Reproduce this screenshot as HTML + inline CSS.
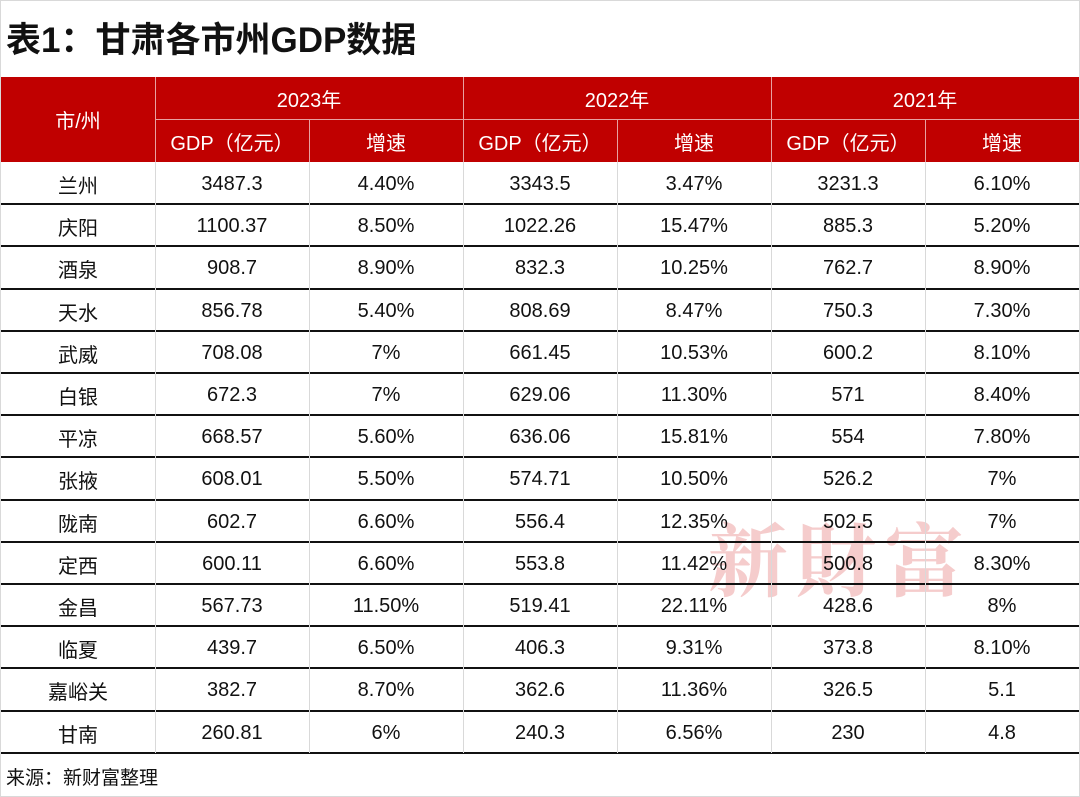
<!DOCTYPE html>
<html><head><meta charset="utf-8"><style>
*{margin:0;padding:0;box-sizing:border-box}
body{width:1080px;height:797px;position:relative;background:#fff;overflow:hidden;font-family:"Liberation Sans","Noto Sans CJK SC",sans-serif;}
.frame{position:absolute;left:0;top:0;width:1080px;height:797px;border:1px solid #d9d9d9;}
.title{position:absolute;left:6px;top:19px;font-size:35px;font-weight:bold;color:#111;line-height:44px;}
.c{position:absolute;display:flex;align-items:center;justify-content:center;font-size:20px;color:#111;padding-top:3px;}
.h{color:#fff;padding-top:0;}
.red{position:absolute;left:1px;top:77px;width:1078px;height:85px;background:#c00000;}
.vl{position:absolute;width:1px;background:#d9d9d9;}
.hl{position:absolute;left:1px;width:1078px;height:2px;background:#111;}
.wm{position:absolute;left:708px;top:498px;font-family:"Noto Serif CJK SC","Liberation Serif",serif;font-size:80px;color:#f5cccc;letter-spacing:8px;font-weight:bold;}
.foot{position:absolute;left:6px;top:763px;font-size:19px;color:#111;}
</style></head><body>
<div class="frame"></div>
<div class="title">表1：甘肃各市州GDP数据</div>
<div class="red"></div>
<div class="wm">新財富</div>
<div id="t"></div>
<div class="foot">来源：新财富整理</div>
<script>
var X=[1,155,309,463,617,771,925,1079];
var rows=[["兰州","3487.3","4.40%","3343.5","3.47%","3231.3","6.10%"],["庆阳","1100.37","8.50%","1022.26","15.47%","885.3","5.20%"],["酒泉","908.7","8.90%","832.3","10.25%","762.7","8.90%"],["天水","856.78","5.40%","808.69","8.47%","750.3","7.30%"],["武威","708.08","7%","661.45","10.53%","600.2","8.10%"],["白银","672.3","7%","629.06","11.30%","571","8.40%"],["平凉","668.57","5.60%","636.06","15.81%","554","7.80%"],["张掖","608.01","5.50%","574.71","10.50%","526.2","7%"],["陇南","602.7","6.60%","556.4","12.35%","502.5","7%"],["定西","600.11","6.60%","553.8","11.42%","500.8","8.30%"],["金昌","567.73","11.50%","519.41","22.11%","428.6","8%"],["临夏","439.7","6.50%","406.3","9.31%","373.8","8.10%"],["嘉峪关","382.7","8.70%","362.6","11.36%","326.5","5.1"],["甘南","260.81","6%","240.3","6.56%","230","4.8"]];
var h="";
function cell(x,y,w,hh,t,cls){return '<div class="c '+(cls||'')+'" style="left:'+x+'px;top:'+y+'px;width:'+w+'px;height:'+hh+'px">'+t+'</div>';}
h+=cell(1,77,154,85,"市/州","h");
var yrs=["2023年","2022年","2021年"];
for(var i=0;i<3;i++){var x=X[1+2*i];h+=cell(x,77,308,42,yrs[i],"h");h+=cell(x,120,154,42,"GDP（亿元）","h");h+=cell(x+154,120,154,42,"增速","h");
h+='<div class="vl" style="left:'+x+'px;top:77px;height:85px;background:#e8a0a0"></div>';
h+='<div class="vl" style="left:'+(x+154)+'px;top:119px;height:43px;background:#e8a0a0"></div>';
h+='<div style="position:absolute;left:'+x+'px;top:119px;width:308px;height:1px;background:#e8a0a0"></div>';}
var y0=162,rh=42.2;
for(var r=0;r<14;r++){var y=y0+r*rh;for(var c=0;c<7;c++)h+=cell(X[c],y,X[c+1]-X[c],rh,rows[r][c]);
h+='<div class="hl" style="top:'+(y+rh-1)+'px"></div>';}
for(var c=1;c<7;c++)h+='<div class="vl" style="left:'+X[c]+'px;top:162px;height:'+(14*rh)+'px"></div>';
document.getElementById("t").innerHTML=h;
</script>
</body></html>
